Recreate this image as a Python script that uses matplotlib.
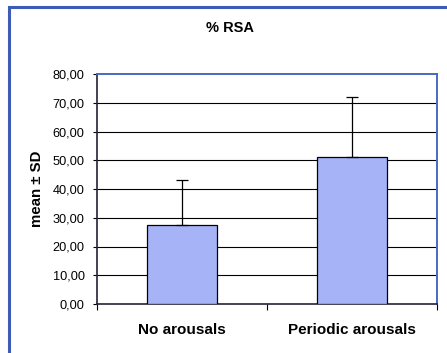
import numpy as np
import matplotlib.pyplot as plt
from matplotlib.patches import Rectangle

plt.rcParams['font.family'] = ['Liberation Sans', 'DejaVu Sans']

# %RSA by group, mean with upper SD
groups = ['No arousals', 'Periodic arousals']
means = [27.6, 51.0]
sds = [15.4, 21.0]
yticks = np.arange(0, 81, 10)

fig = plt.figure(figsize=(4.47, 3.53), dpi=100)
W, H = 447, 353

# outer chart frame (runs off the right and bottom edges)
fig.patches.append(Rectangle((9 / W, -0.05), 1.0, (H - 7) / H + 0.05,
                             transform=fig.transFigure, fill=False,
                             edgecolor='#3d5cb8', linewidth=2.2))

ax = fig.add_axes([97 / W, (H - 304) / H, 340 / W, 230 / H])
x = np.arange(len(groups))
ax.bar(x, means, width=0.41, color='#a6b4f7', edgecolor='black',
       linewidth=0.9, zorder=3)
ax.errorbar(x, means, yerr=[np.zeros(len(sds)), sds], fmt='none',
            ecolor='black', elinewidth=0.9, capsize=4, capthick=0.9, zorder=4)

ax.set_xlim(-0.5, 1.5)
ax.set_ylim(0, 80)
ax.set_yticks(yticks)
ax.set_yticklabels([f'{v:.2f}'.replace('.', ',') for v in yticks], fontsize=9.2)
for v in yticks[1:-1]:
    ax.axhline(v, color='black', linewidth=0.8, zorder=1)

ax.set_xticks([-0.5, 0.5, 1.5])
ax.set_xticklabels([])
ax.set_xticks(x, minor=True)
ax.set_xticklabels(groups, minor=True, fontsize=11, fontweight='bold')
ax.tick_params(axis='x', which='minor', length=0, pad=14)
ax.tick_params(axis='x', which='major', length=4, width=0.8, direction='out')
ax.tick_params(axis='y', length=3, width=0.8, pad=6)

for side in ['top', 'right']:
    ax.spines[side].set_color('#4a68c0')
    ax.spines[side].set_linewidth(1.4)
ax.spines['left'].set_color('#222233')
ax.spines['bottom'].set_color('#222233')
ax.spines['left'].set_linewidth(1.2)
ax.spines['bottom'].set_linewidth(1.2)

ax.set_ylabel('mean ± SD', fontsize=10.8, fontweight='bold', labelpad=6)
fig.text(230 / W, 1 - 28 / H, '% RSA', ha='center', va='center',
         fontsize=10.5, fontweight='bold')

fig.savefig('out.png', dpi=100)
